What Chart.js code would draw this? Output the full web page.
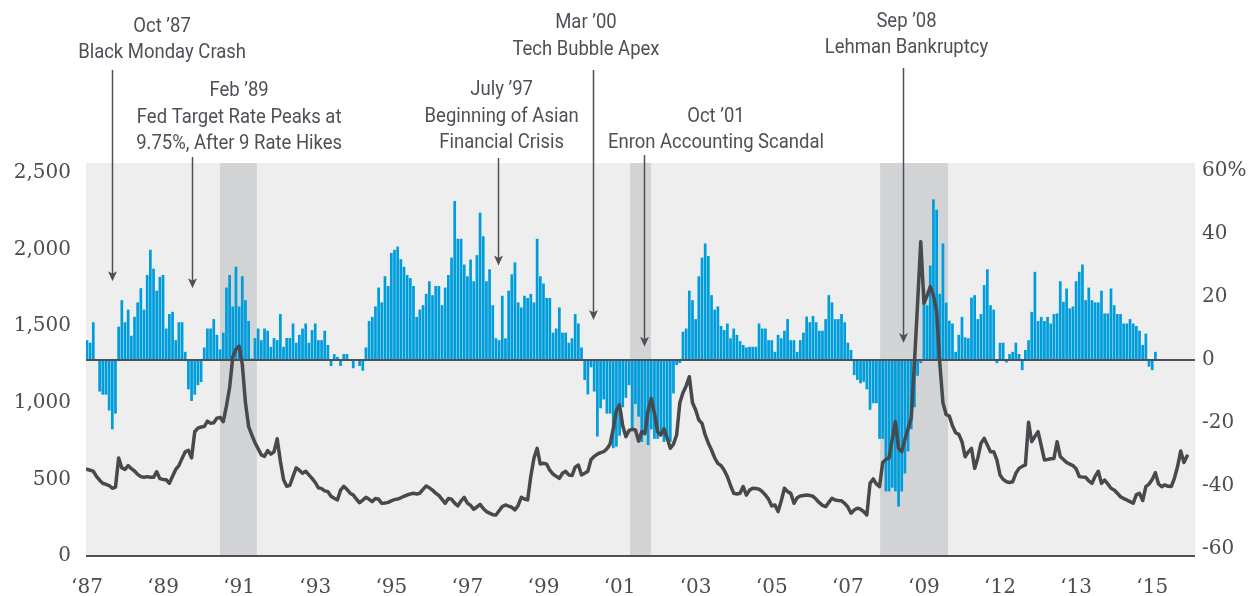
<!DOCTYPE html>
<html><head><meta charset="utf-8">
<script src="https://cdn.jsdelivr.net/npm/chart.js@4.4.1/dist/chart.umd.min.js"></script>
<style>html,body{margin:0;padding:0;background:#fff;}#wrap{width:1253px;height:596px;}</style>
</head><body><div id="wrap"><canvas id="c" width="1253" height="596"></canvas></div>
<script>
// Month index 0 = Jan 1987
const xTickMonths = [0,24,48,72,96,120,144,168,192,216,240,264,288,312,336];
const xTickLabels = ['‘87','‘89','‘91','‘93','‘95','‘97','‘99','‘01','‘03','‘05','‘07','‘09','‘12','‘13','‘15'];
const leftTicks = [0,500,1000,1500,2000,2500];
const rightTicks = [-60,-40,-20,0,20,40,60];
const recessions = [[41.96,53.6],[171.3,177.9],[250.2,271.6]];

// Blue bars (right axis, %), monthly from Jan 1987
const barValues = [
  6.3,5.5,12,0.3,-10,-11,-11,-16,-22,-17,10.6,19,
  12,16,7.7,13.7,18.3,22.8,16,27,35,29,22,26.4,
  27,10,14.6,15.3,6.3,12,12,2.6,-9.3,-13,-11,-8,
  -7,4,10,10,13,8,3.4,8.7,23,27,17,29.6,
  17,26.6,19,12.4,0.5,7,10,6.3,10,9.3,4.2,7,
  6.3,14.6,4.2,7,7,11.6,5.5,8,10,11.6,5.5,9.5,
  11.6,6.3,6.3,9.3,4.8,-1.9,1.9,1,-1.9,1.9,1.9,0.3,
  -2.6,0.3,-1.9,-3.4,4,12.4,13.7,17,23,18.3,26.6,23.5,
  34,35,36,32,29.6,27,26,23.5,13.7,16,17.4,21,
  25,20.6,23.5,23.5,17.4,23,27,32.5,50.5,38.5,38.5,30.3,
  26.6,31.9,25,33.3,46.8,39.3,25,28.8,17.4,6.9,6.3,20.4,
  6.9,22,27.2,31,18.3,16.7,20.4,19.7,21,18.3,38.5,26.6,
  24.3,19.7,19.7,8.7,10,16.7,8.7,8.7,5.5,6.9,14.6,11.6,
  4,-6.3,-10.9,-2.3,-10,-24.3,-15.3,-12.5,-17,-17,-28,-27.5,
  -24,-15,-12,-8,-22,-14,-18,-26,-24,-27,-22,-25,
  -25,-24,-26,-25,-26,-10.6,-1.6,-1,9,10,22,19,
  13,26.6,32.5,37,33,20.6,16,17,10.8,9.5,11.6,6.9,
  10,8,6,4.8,4,4.2,4.2,4.2,11.6,10,10,6.3,
  6.3,2.6,8,6.9,9.3,13,6.3,6.3,2.6,6.3,8.7,13.8,
  12,14,12,9.3,9.3,13,20.6,18.3,13,13,14.6,12,
  5.5,3.2,-4.8,-6.3,-7.4,-6.9,-9.3,-15.8,-13.7,-13.7,-25,-25,
  -41.7,-41.7,-40.5,-41.7,-46.5,-41.7,-36,-29,-22,-15,-5,-1,
  22.7,17.4,30,51,47.7,21,37,18.2,12.5,11.6,2.6,8,
  13.7,7.2,6.9,19.8,20.6,13,14.6,23.8,28.8,17.4,16,-1,
  5.5,5.5,-0.8,1.9,2.6,5.5,1.9,-3.2,3.2,6.3,15.3,28,
  12.4,13.7,12.4,13.7,11.6,14.6,14.8,25,18.5,22.7,16.4,17,
  25,28,30.3,19,23,19,18.3,18.3,22,14.8,14.8,22.7,
  17.4,14.6,14.6,11.6,11.6,13,11.6,10.8,9.3,4.8,8.4,-2.1,
  -3.2,2.6,0.2
];

// Dark line (left axis), monthly from Jan 1987
const lineValues = [
  566,560,553,520,495,474,468,460,442,450,640,575,
  565,590,570,555,533,518,514,518,514,514,550,505,
  500,498,475,520,565,590,637,680,690,640,811,835,
  842,845,880,866,870,900,905,877,980,1100,1300,1350,
  1370,1250,1000,844,790,740,700,660,650,688,665,680,
  765,620,500,455,462,520,575,560,540,553,530,507,
  480,445,440,425,420,390,377,366,430,455,435,410,
  398,370,348,365,383,370,355,375,370,344,346,350,
  360,368,372,380,390,398,405,409,405,410,435,457,
  445,430,410,395,370,344,375,370,345,327,360,383,
  345,330,305,320,337,310,290,280,270,268,295,322,
  333,325,318,301,330,383,372,366,520,640,703,600,
  605,600,560,535,520,507,540,553,529,525,580,594,
  529,540,553,630,650,665,675,681,700,730,830,950,
  986,850,779,820,827,823,750,812,801,950,1029,931,
  812,790,830,770,703,730,790,1000,1065,1110,1170,1000,
  953,888,866,790,736,692,640,605,590,560,518,460,
  409,405,409,453,398,430,442,440,436,420,398,370,
  327,333,290,360,442,420,409,344,380,392,395,398,
  395,390,370,348,330,322,350,377,365,362,360,344,
  320,279,300,312,305,290,268,474,503,470,453,610,
  630,640,760,877,703,681,760,830,900,1259,1650,2052,
  1650,1700,1758,1700,1600,1259,1000,924,913,850,805,794,
  746,648,680,703,572,640,736,768,725,681,681,627,
  529,500,485,480,485,540,572,585,594,873,746,780,
  812,720,627,630,635,637,746,650,630,610,600,590,
  570,518,515,514,490,474,520,553,474,496,470,442,
  431,410,387,375,366,355,344,400,409,362,453,470,
  500,544,470,453,464,455,453,507,584,686,610,653
];

// Event annotations: text lines, text centre (month), arrow position (month), arrow tip (right-axis %)
const noteLines = [
  ['Oct ’87','Black Monday Crash'],
  ['Feb ’89','Fed Target Rate Peaks at','9.75%, After 9 Rate Hikes'],
  ['July ’97','Beginning of Asian','Financial Crisis'],
  ['Mar ’00','Tech Bubble Apex'],
  ['Oct ’01','Enron Accounting Scandal'],
  ['Sep ’08','Lehman Bankruptcy']
];
const noteTextMonth = [23.7, 48, 130.8, 157.4, 198.4, 258.5];
const noteArrowMonth = [7.9, 33.1, 129.7, 159.7, 175.8, 257.5];
const noteArrowTip = [25, 22.8, 30, 12.7, 4.2, 5.4];
// layout (pixels): first baseline, arrow start
const noteBaseline = [31.7, 96, 95, 28.3, 121.7, 26.7];
const noteArrowTop = [70, 157, 158, 70, 155, 68];

const INK = '#4a4d52';
const decor = {
  id: 'decor',
  beforeDraw(chart) {
    const {ctx, chartArea: a, scales: {x}} = chart;
    ctx.save();
    ctx.fillStyle = '#eeeeee';
    ctx.fillRect(a.left, a.top - 8, a.right - a.left, a.bottom - a.top + 8);
    ctx.fillStyle = '#d2d3d5';
    for (const [s, e] of recessions) {
      const x0 = x.getPixelForValue(s), x1 = x.getPixelForValue(e);
      ctx.fillRect(x0, a.top - 8, x1 - x0, a.bottom - a.top + 8);
    }
    ctx.restore();
  },
  afterDatasetDraw(chart, args) {
    if (args.index !== 1) return;
    const {ctx, chartArea: a, scales: {yR}} = chart;
    const y0 = yR.getPixelForValue(0);
    ctx.save();
    ctx.strokeStyle = '#4d5055';
    ctx.lineWidth = 2;
    ctx.beginPath(); ctx.moveTo(a.left, y0); ctx.lineTo(a.right, y0); ctx.stroke();
    ctx.beginPath(); ctx.moveTo(a.left, a.bottom); ctx.lineTo(a.right, a.bottom); ctx.stroke();
    ctx.restore();
  },
  afterDraw(chart) {
    const {ctx, scales: {x, yR}} = chart;
    ctx.save();
    ctx.fillStyle = '#4d5157';
    ctx.strokeStyle = '#4d5157';
    ctx.font = '21px Roboto';
    ctx.textAlign = 'center';
    ctx.textBaseline = 'alphabetic';
    noteLines.forEach((lines, n) => {
      const cx = x.getPixelForValue(noteTextMonth[n]);
      lines.forEach((t, i) => {
        ctx.save();
        ctx.translate(cx, noteBaseline[n] + i * 26.5);
        ctx.scale(0.88, 1);
        ctx.fillText(t, 0, 0);
        ctx.restore();
      });
      const ax = Math.round(x.getPixelForValue(noteArrowMonth[n])) + 0.5;
      const tip = yR.getPixelForValue(noteArrowTip[n]);
      ctx.lineWidth = 1.5;
      ctx.beginPath(); ctx.moveTo(ax, noteArrowTop[n]); ctx.lineTo(ax, tip - 6); ctx.stroke();
      ctx.beginPath();
      ctx.moveTo(ax, tip); ctx.lineTo(ax - 4.5, tip - 10); ctx.lineTo(ax, tip - 7.5); ctx.lineTo(ax + 4.5, tip - 10);
      ctx.closePath(); ctx.fill();
    });
    ctx.restore();
  }
};

const tickFont = {family: '"DejaVu Serif"', size: 20};
new Chart(document.getElementById('c'), {
  type: 'bar',
  data: {
    datasets: [
      {
        type: 'line', label: 'Line', yAxisID: 'yL', order: 0,
        data: lineValues.map((v, i) => ({x: i, y: v})),
        borderColor: '#47494d', borderWidth: 3.5, pointRadius: 0, tension: 0,
        borderJoinStyle: 'round', borderCapStyle: 'round', fill: false
      },
      {
        type: 'bar', label: 'Bars', yAxisID: 'yR', order: 1,
        data: barValues.map((v, i) => ({x: i, y: v})),
        backgroundColor: '#009ddc', borderWidth: 0,
        barPercentage: 0.86, categoryPercentage: 1
      }
    ]
  },
  options: {
    responsive: false, animation: false, devicePixelRatio: 1,
    layout: {padding: {top: 171, left: 0, right: 0, bottom: 0}},
    plugins: {legend: {display: false}, tooltip: {enabled: false}},
    scales: {
      x: {
        type: 'linear', position: 'bottom', min: -0.3, max: 349.5, offset: false,
        grid: {display: false, drawTicks: false}, border: {display: false},
        afterBuildTicks: s => { s.ticks = xTickMonths.map(v => ({value: v})); },
        afterFit: s => { s.height = 40; },
        ticks: {
          autoSkip: false, maxRotation: 0, padding: 20, color: INK, font: tickFont,
          callback: v => xTickLabels[xTickMonths.indexOf(v)]
        }
      },
      yL: {
        type: 'linear', position: 'left', min: 0, max: 2513,
        grid: {display: false, drawTicks: false}, border: {display: false},
        afterBuildTicks: s => { s.ticks = leftTicks.map(v => ({value: v})); },
        afterFit: s => { s.width = 86; },
        ticks: {padding: 15, color: INK, font: tickFont, callback: v => v.toLocaleString('en-US')}
      },
      yR: {
        type: 'linear', position: 'right', min: -62.2, max: 60,
        grid: {display: false, drawTicks: false}, border: {display: false},
        afterBuildTicks: s => { s.ticks = rightTicks.map(v => ({value: v})); },
        afterFit: s => { s.width = 58; },
        ticks: {padding: 7, color: INK, font: tickFont, callback: v => v === 60 ? '60%' : String(v)}
      }
    }
  },
  plugins: [decor]
});
</script></body></html>
